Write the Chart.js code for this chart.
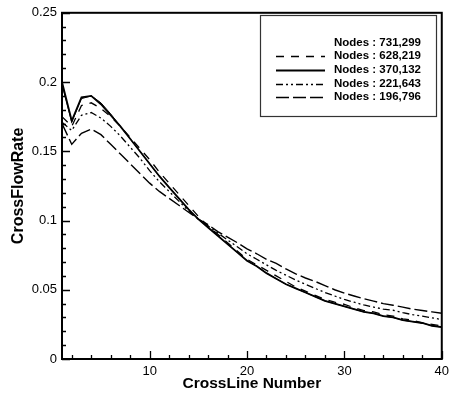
<!DOCTYPE html>
<html>
<head>
<meta charset="utf-8">
<script src="https://cdn.jsdelivr.net/npm/chart.js@4/dist/chart.umd.min.js"></script>
<style>
  html, body { margin: 0; padding: 0; background: #fff; }
  #wrap { width: 454px; height: 393px; }
</style>
</head>
<body>
<div id="wrap"><canvas id="c" width="454" height="393"></canvas></div>
<script>
// ---------- data ----------
const crossLines = [1,2,3,4,5,6,7,8,9,10,11,12,13,14,15,16,17,18,19,20,21,22,23,24,25,26,27,28,29,30,31,32,33,34,35,36,37,38,39,40];
const seriesNames = ["Nodes : 731,299", "Nodes : 628,219", "Nodes : 370,132", "Nodes : 221,643", "Nodes : 196,796"];
const nodes731299 = [0.198,0.171,0.188,0.190,0.185,0.177,0.168,0.159,0.150,0.141,0.132,0.124,0.116,0.108,0.101,0.095,0.089,0.083,0.077,0.071,0.067,0.062,0.058,0.054,0.051,0.048,0.045,0.042,0.040,0.038,0.036,0.034,0.033,0.031,0.030,0.028,0.027,0.026,0.024,0.023];
const nodes628219 = [0.175,0.168,0.183,0.185,0.181,0.175,0.168,0.160,0.152,0.144,0.135,0.127,0.119,0.111,0.103,0.096,0.090,0.084,0.078,0.072,0.068,0.064,0.060,0.056,0.052,0.049,0.046,0.043,0.041,0.0395,0.037,0.035,0.034,0.032,0.031,0.029,0.028,0.026,0.025,0.024];
const nodes370132 = [0.200,0.172,0.189,0.190,0.184,0.176,0.168,0.159,0.150,0.141,0.132,0.124,0.116,0.108,0.101,0.095,0.089,0.083,0.077,0.071,0.067,0.062,0.058,0.054,0.051,0.048,0.045,0.042,0.040,0.038,0.036,0.034,0.033,0.031,0.030,0.028,0.027,0.026,0.024,0.023];
const nodes221643 = [0.171,0.165,0.176,0.178,0.174,0.168,0.161,0.153,0.145,0.136,0.128,0.121,0.114,0.107,0.101,0.096,0.091,0.086,0.081,0.076,0.072,0.068,0.064,0.0605,0.057,0.054,0.051,0.048,0.0455,0.043,0.041,0.039,0.0375,0.036,0.0352,0.0335,0.032,0.031,0.0297,0.0285];
const nodes196796 = [0.170,0.155,0.163,0.166,0.162,0.155,0.148,0.141,0.134,0.127,0.121,0.116,0.111,0.106,0.101,0.097,0.092,0.088,0.084,0.0795,0.076,0.072,0.069,0.065,0.0615,0.0585,0.056,0.053,0.050,0.0476,0.0455,0.0435,0.0418,0.040,0.0388,0.0375,0.036,0.035,0.034,0.033];
const xTickLabels = [10, 20, 30, 40];
const xMinorTicks = [2,4,6,8,12,14,16,18,22,24,26,28,32,34,36,38];
const yTickLabels = ["0", "0.05", "0.1", "0.15", "0.2", "0.25"];
const yMinorTicks = [0.01,0.02,0.03,0.04,0.06,0.07,0.08,0.09,0.11,0.12,0.13,0.14,0.16,0.17,0.18,0.19,0.21,0.22,0.23,0.24];
const xTitle = "CrossLine Number";
const yTitle = "CrossFlowRate";

// ---------- styles ----------
const styles = [
  { dash: [], width: 1, sample: false },
  { dash: [8, 7], width: 1.3, sample: true },
  { dash: [], width: 1.8, sample: true },
  { dash: [7, 3, 2, 3, 2, 3], width: 1.3, sample: true },
  { dash: [13, 4], width: 1.4, sample: true }
];
const seriesData = [nodes731299, nodes628219, nodes370132, nodes221643, nodes196796];

const datasets = seriesData.map((arr, i) => ({
  label: seriesNames[i],
  data: arr.map((v, k) => ({ x: crossLines[k], y: v })),
  borderColor: '#000',
  borderWidth: styles[i].width,
  borderDash: styles[i].dash,
  pointRadius: 0,
  fill: false,
  tension: 0,
  showSample: styles[i].sample
}));

const frameAndTicks = {
  id: 'frameAndTicks',
  afterDatasetsDraw(chart) {
    const ctx = chart.ctx, a = chart.chartArea;
    const xs = chart.scales.x, ys = chart.scales.y;
    ctx.save();
    ctx.strokeStyle = '#000';
    ctx.setLineDash([]);
    // ticks
    ctx.lineWidth = 1.3;
    ctx.beginPath();
    yTickLabels.forEach(t => {
      const p = Math.round(ys.getPixelForValue(parseFloat(t))) + 0.5;
      ctx.moveTo(a.left, p); ctx.lineTo(a.left + 8, p);
    });
    yMinorTicks.forEach(t => {
      const p = Math.round(ys.getPixelForValue(t)) + 0.5;
      ctx.moveTo(a.left, p); ctx.lineTo(a.left + 4, p);
    });
    xTickLabels.forEach(t => {
      const p = Math.round(xs.getPixelForValue(t)) + 0.5;
      ctx.moveTo(p, a.bottom); ctx.lineTo(p, a.bottom - 8);
    });
    xMinorTicks.forEach(t => {
      const p = Math.round(xs.getPixelForValue(t)) + 0.5;
      ctx.moveTo(p, a.bottom); ctx.lineTo(p, a.bottom - 4);
    });
    ctx.stroke();
    // frame
    ctx.lineWidth = 2;
    ctx.strokeRect(a.left, a.top, a.right - a.left, a.bottom - a.top);

    // legend box
    const bx = 260, by = 15, bw = 176, bh = 101;
    ctx.fillStyle = '#fff';
    ctx.fillRect(bx, by, bw, bh);
    ctx.lineWidth = 1.2;
    ctx.strokeStyle = '#333';
    ctx.strokeRect(bx + 0.5, by + 0.5, bw, bh);
    ctx.font = 'bold 11.5px "Liberation Sans", Arial, sans-serif';
    ctx.textBaseline = 'middle';
    ctx.textAlign = 'left';
    ctx.fillStyle = '#000';
    const rowY0 = 42.5, rowH = 13.7;
    chart.data.datasets.forEach((ds, i) => {
      const y = rowY0 + i * rowH;
      ctx.fillText(ds.label, 334, y);
      if (ds.showSample) {
        ctx.save();
        ctx.strokeStyle = '#000';
        ctx.lineWidth = ds.borderWidth;
        ctx.setLineDash(ds.borderDash);
        ctx.beginPath();
        ctx.moveTo(276, Math.round(y) + 0.5);
        ctx.lineTo(325, Math.round(y) + 0.5);
        ctx.stroke();
        ctx.restore();
      }
    });
    ctx.restore();
  }
};

new Chart(document.getElementById('c'), {
  type: 'line',
  data: { datasets },
  options: {
    responsive: false,
    animation: false,
    devicePixelRatio: 1,
    layout: { padding: { top: 12, right: 12, left: 0, bottom: 0 } },
    plugins: { legend: { display: false }, tooltip: { enabled: false } },
    scales: {
      x: {
        type: 'linear', min: 1, max: 40,
        afterBuildTicks: s => { s.ticks = xTickLabels.map(v => ({ value: v })); },
        afterFit: s => { s.height = 34; },
        ticks: { color: '#000', padding: 5, maxRotation: 0, autoSkip: false,
                 font: { family: '"Liberation Sans", Arial, sans-serif', size: 13 },
                 callback: v => String(v) },
        grid: { display: false, drawTicks: false },
        border: { display: false },
        title: { display: true, text: xTitle, color: '#000', padding: { top: 0, bottom: 0 },
                 font: { family: '"Liberation Sans", Arial, sans-serif', size: 15.5, weight: 'bold' } }
      },
      y: {
        type: 'linear', min: 0, max: 0.25,
        afterBuildTicks: s => { s.ticks = yTickLabels.map(v => ({ value: parseFloat(v) })); },
        afterFit: s => { s.width = 62; },
        ticks: { color: '#000', padding: 5, autoSkip: false,
                 font: { family: '"Liberation Sans", Arial, sans-serif', size: 13 },
                 callback: (v, i) => yTickLabels[i] },
        grid: { display: false, drawTicks: false },
        border: { display: false },
        title: { display: true, text: yTitle, color: '#000', padding: { top: 9, bottom: 0 },
                 font: { family: '"Liberation Sans", Arial, sans-serif', size: 16, weight: 'bold' } }
      }
    }
  },
  plugins: [frameAndTicks]
});
</script>
</body>
</html>
